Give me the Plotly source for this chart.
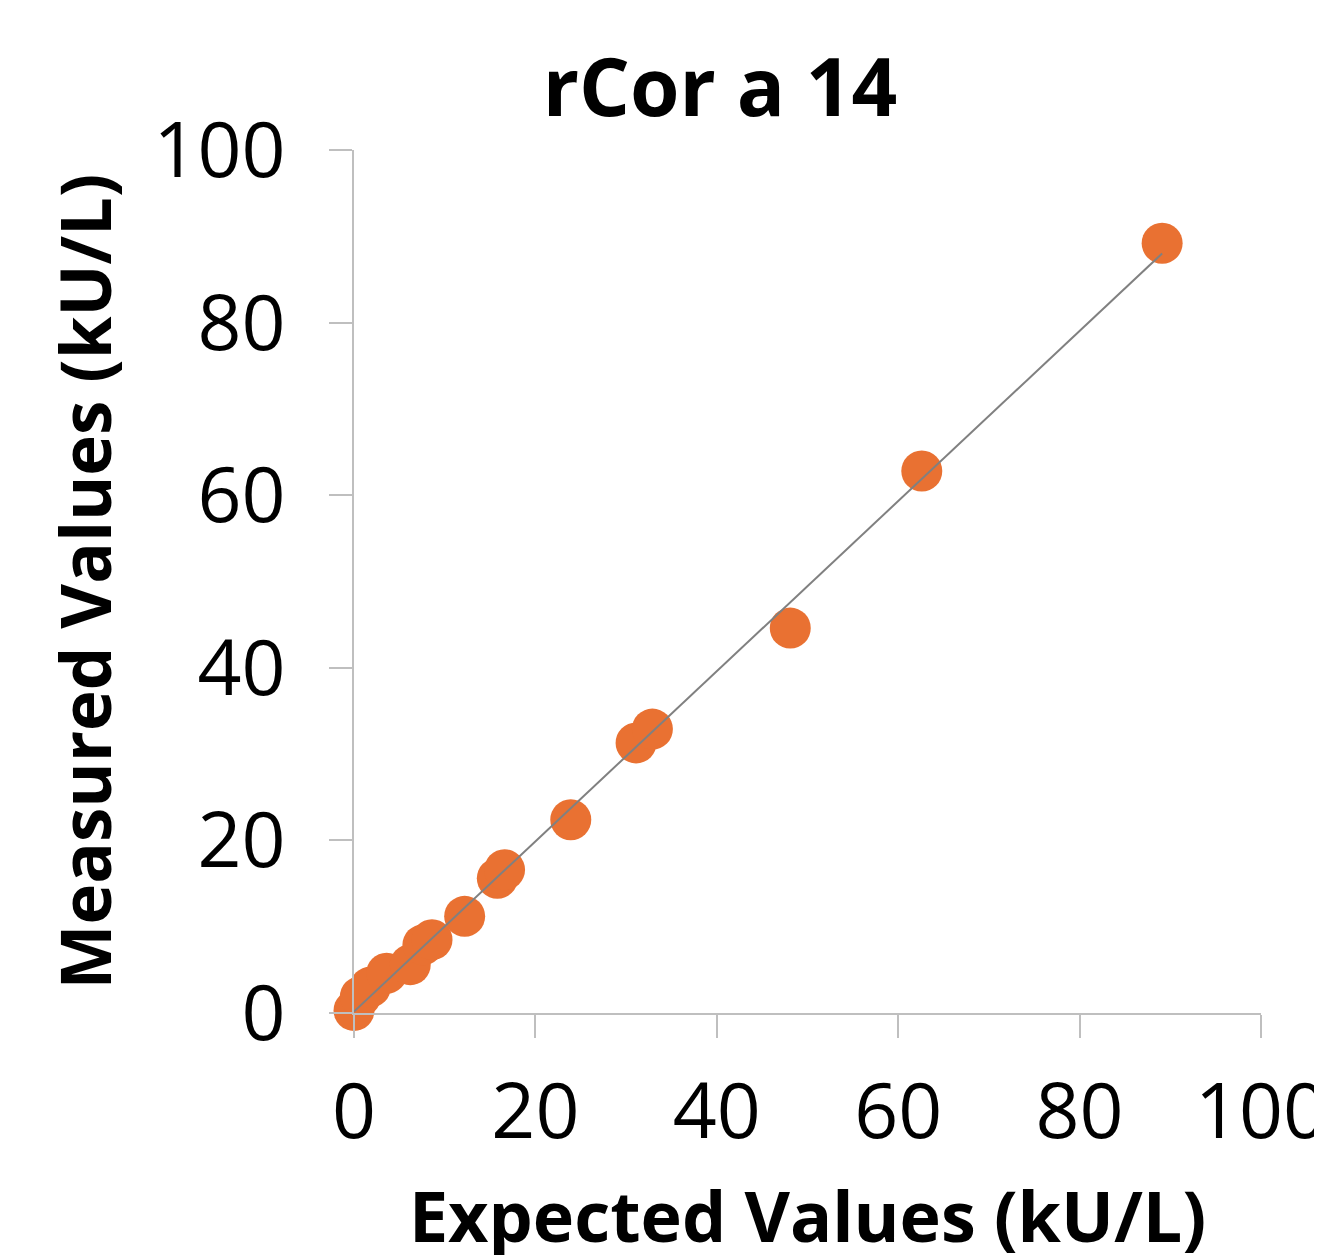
import numpy as np
import plotly.graph_objects as go

expected = [0.0, 0.7, 1.8, 3.6, 6.2, 7.6, 8.6, 12.2, 15.8, 16.6, 23.9, 31.1, 32.9, 48.1, 62.6, 89.1]
measured = [0.3, 1.9, 3.0, 4.6, 5.6, 7.9, 8.5, 11.2, 15.6, 16.6, 22.4, 31.3, 32.9, 44.6, 62.8, 89.2]

slope, intercept = np.polyfit(expected, measured, 1)
line_x = [min(expected), max(expected)]
line_y = [slope * v + intercept for v in line_x]

fig = go.Figure()
fig.add_trace(go.Scatter(x=expected, y=measured, mode="markers", cliponaxis=False,
                         marker=dict(color="#E97132", size=41, line=dict(width=0)),
                         showlegend=False))
fig.add_trace(go.Scatter(x=line_x, y=line_y, mode="lines", cliponaxis=False,
                         line=dict(color="#808080", width=2), showlegend=False))

axis_common = dict(range=[0, 100], dtick=20, showgrid=False, zeroline=False,
                   showline=True, linecolor="#BFBFBF", linewidth=2, automargin=False,
                   ticks="outside", ticklen=23, tickwidth=2, tickcolor="#BFBFBF",
                   ticklabeloverflow="allow",
                   tickfont=dict(size=77, color="black"))

# page body has an 8px default margin, so offsets compensate for it
fig.update_layout(
    width=1322, height=1255,
    margin=dict(l=346, r=69, t=142, b=250),
    paper_bgcolor="white", plot_bgcolor="white",
    font=dict(family="Open Sans", color="black"),
    title=dict(text="<b>rCor a 14</b>", x=712 / 1322, xanchor="center",
               y=1 - 80 / 1255, yanchor="middle",
               font=dict(size=80, color="black")),
    xaxis=dict(**axis_common, ticklabelstandoff=8,
               title=dict(text="<b>Expected Values (kU/L)</b>",
                          font=dict(size=70), standoff=44)),
    yaxis=dict(**axis_common, ticklabelstandoff=28,
               title=dict(text="<b>Measured Values (kU/L)</b>",
                          font=dict(size=69), standoff=19)),
)
fig.write_html("out.html")
